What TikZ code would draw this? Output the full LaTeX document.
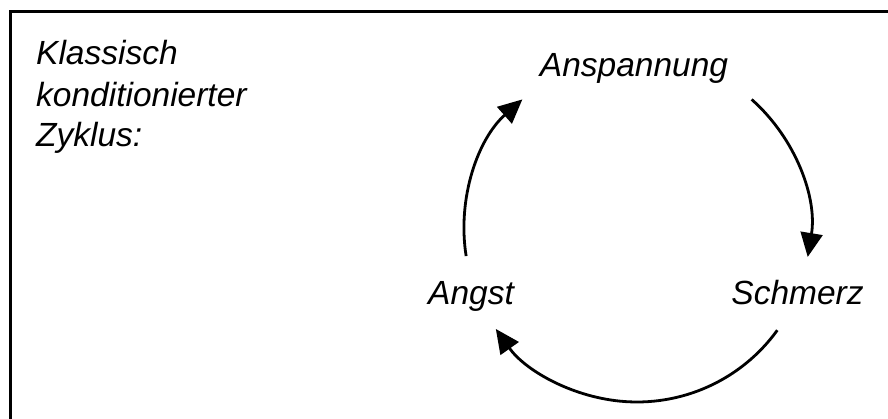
\documentclass[tikz,border=0pt]{standalone}
\usepackage{fontspec}
\setmainfont{Liberation Sans}
\usetikzlibrary{arrows.meta,calc}
\begin{document}
\begin{tikzpicture}[x=1pt,y=1pt,
  lbl/.style={inner sep=0pt,font=\fontsize{33.5}{40}\selectfont\itshape},
  cyc/.style={line width=2.8pt,-{Triangle[length=24pt,width=22pt]}},
  frame/.style={line width=2.7pt}]
\useasboundingbox (0,0) rectangle (888,419);
\coordinate (fbl) at (10.3,0);
\coordinate (ftl) at (10.3,407.5);
\coordinate (ftr) at (888,407.5);
\draw[frame] (fbl) -- (ftl) -- (ftr);
\node[lbl,anchor=base west] (t1) at (36,354) {Klassisch};
\node[lbl,anchor=base west] (t2) at (36,312) {konditionierter};
\node[lbl,anchor=base west] (t3) at (36,272) {Zyklus:};
\node[lbl,anchor=base] (ansp) at (634,342) {Anspannung};
\node[lbl,anchor=base] (angst) at (471,114) {Angst};
\node[lbl,anchor=base] (schm) at (797.5,114) {Schmerz};
\coordinate (c) at (637,190);
\coordinate (s1) at ($(c)+(189:173)$);
\coordinate (s2) at ($(c)+(48.5:173)$);
\coordinate (s3) at ($(c)+(-35.8:173)$);
\draw[cyc] (s1) arc[start angle=189,end angle=131.5,radius=173];
\draw[cyc] (s2) arc[start angle=48.5,end angle=-9.3,radius=173];
\draw[cyc] (s3) arc[start angle=-35.8,end angle=-144.7,radius=173];
\end{tikzpicture}
\end{document}
